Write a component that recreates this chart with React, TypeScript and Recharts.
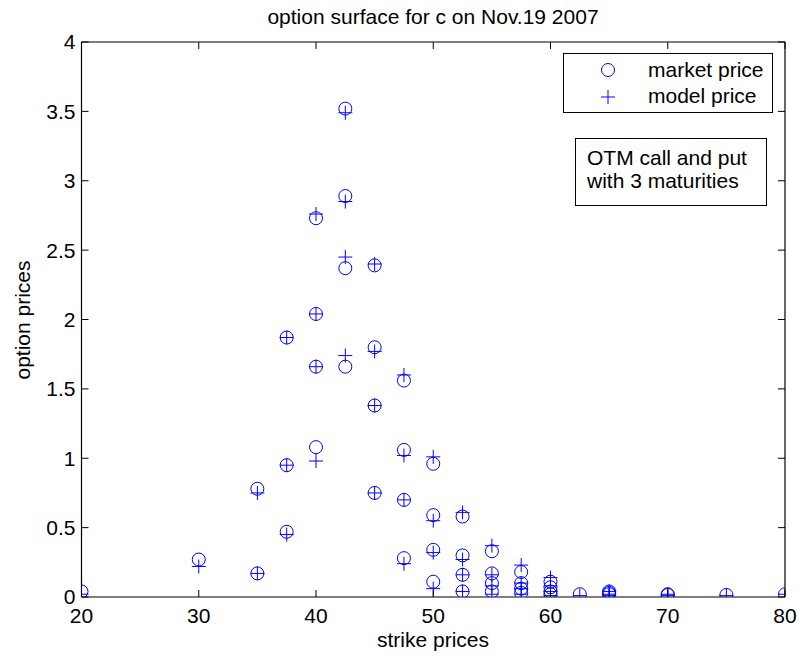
import React from 'react';
import { ScatterChart, Scatter, XAxis, YAxis, ReferenceLine, Legend } from 'recharts';

const strikes = [
  20, 30, 35, 35, 37.5, 37.5, 37.5, 40, 40, 40, 40,
  42.5, 42.5, 42.5, 42.5, 45, 45, 45, 45, 47.5, 47.5, 47.5, 47.5,
  50, 50, 50, 50, 52.5, 52.5, 52.5, 52.5, 55, 55, 55, 55,
  57.5, 57.5, 57.5, 57.5, 60, 60, 60, 60, 62.5, 65, 65, 65, 70, 70, 75, 80,
];
const marketPrices = [
  0.04, 0.27, 0.78, 0.17, 1.87, 0.95, 0.47, 2.73, 2.04, 1.66, 1.08,
  3.52, 2.89, 2.37, 1.66, 2.39, 1.80, 1.38, 0.75, 1.56, 1.06, 0.70, 0.28,
  0.96, 0.59, 0.34, 0.11, 0.58, 0.30, 0.16, 0.04, 0.33, 0.17, 0.10, 0.04,
  0.18, 0.10, 0.06, 0.03, 0.11, 0.07, 0.04, 0.02, 0.02, 0.04, 0.03, 0.02, 0.02, 0.015, 0.015, 0.02,
];
const modelPrices = [
  0.02, 0.22, 0.75, 0.17, 1.87, 0.95, 0.45, 2.76, 2.04, 1.66, 0.98,
  3.49, 2.85, 2.45, 1.74, 2.40, 1.77, 1.38, 0.75, 1.60, 1.02, 0.70, 0.24,
  1.01, 0.55, 0.32, 0.06, 0.61, 0.27, 0.16, 0.04, 0.37, 0.16, 0.08, 0.02,
  0.23, 0.10, 0.06, 0.02, 0.14, 0.08, 0.04, 0.01, 0.01, 0.04, 0.02, 0.01, 0.02, 0.01, 0.01, 0.02,
];
const xTicks = [20, 30, 40, 50, 60, 70, 80];
const yTicks = [0, 0.5, 1, 1.5, 2, 2.5, 3, 3.5, 4];

const marketData = strikes.map((s, i) => ({ strike: s, price: marketPrices[i] }));
const modelData = strikes.map((s, i) => ({ strike: s, price: modelPrices[i] }));

const FONT = '"Liberation Sans", Arial, Helvetica, sans-serif';
const BLUE = '#0000ff';
const PLOT_TOP = 42;
const PLOT_RIGHT = 785;
const TICK_LEN = 7;

const CircleShape = (props: any) => {
  const { cx, cy } = props;
  if (cx == null || cy == null) return null;
  return <circle cx={cx} cy={cy} r={6.5} fill="none" stroke={BLUE} strokeWidth={1} />;
};
const PlusShape = (props: any) => {
  const { cx, cy } = props;
  if (cx == null || cy == null) return null;
  const h = 7;
  return (
    <g stroke={BLUE} strokeWidth={1}>
      <line x1={cx - h} y1={cy} x2={cx + h} y2={cy} />
      <line x1={cx} y1={cy - h} x2={cx} y2={cy + h} />
    </g>
  );
};

const XTick = (props: any) => {
  const { x, y, payload } = props;
  const axisY = y - 11;
  return (
    <g>
      <line x1={x} y1={axisY} x2={x} y2={axisY - TICK_LEN} stroke="#000" />
      <line x1={x} y1={PLOT_TOP} x2={x} y2={PLOT_TOP + TICK_LEN} stroke="#000" />
      <text x={x} y={y} dy="0.71em" textAnchor="middle" fontSize={21} fontFamily={FONT} fill="#000">
        {payload.value}
      </text>
    </g>
  );
};

const YTick = (props: any) => {
  const { x, y, payload } = props;
  const axisX = x + 6;
  return (
    <g>
      <line x1={axisX} y1={y} x2={axisX + TICK_LEN} y2={y} stroke="#000" />
      <line x1={PLOT_RIGHT - TICK_LEN} y1={y} x2={PLOT_RIGHT} y2={y} stroke="#000" />
      <text x={x} y={y} dy="0.355em" textAnchor="end" fontSize={21} fontFamily={FONT} fill="#000">
        {payload.value}
      </text>
    </g>
  );
};

const LegendContent = () => (
  <svg width={210} height={60} style={{ display: 'block' }}>
    <rect x={0.5} y={0.5} width={209} height={59} fill="#fff" stroke="#000" strokeWidth={1} />
    <circle cx={45} cy={17} r={6.5} fill="none" stroke={BLUE} />
    <line x1={38} y1={44} x2={52} y2={44} stroke={BLUE} />
    <line x1={45} y1={37} x2={45} y2={51} stroke={BLUE} />
    <text x={85} y={24} fontSize={21} fontFamily={FONT} fill="#000">market price</text>
    <text x={85} y={50} fontSize={21} fontFamily={FONT} fill="#000">model price</text>
  </svg>
);

export default function App() {
  return (
    <div style={{ position: 'absolute', left: 0, top: 0, width: 799, height: 656, background: '#fff' }}>
      <ScatterChart
        width={799}
        height={656}
        margin={{ top: PLOT_TOP, right: 799 - PLOT_RIGHT, bottom: 29, left: 21.5 }}
      >
        <XAxis
          type="number"
          dataKey="strike"
          domain={[20, 80]}
          ticks={xTicks}
          allowDataOverflow
          tickLine={false}
          tickSize={0}
          tickMargin={11}
          tick={<XTick />}
          axisLine={{ stroke: '#000', strokeWidth: 1.2 }}
          height={30}
        />
        <YAxis
          type="number"
          dataKey="price"
          domain={[0, 4]}
          ticks={yTicks}
          allowDataOverflow
          tickLine={false}
          tickSize={0}
          tickMargin={6}
          tick={<YTick />}
          axisLine={{ stroke: '#000', strokeWidth: 1.2 }}
          width={60}
        />
        <ReferenceLine y={4} stroke="#000" strokeWidth={1.2} />
        <ReferenceLine x={80} stroke="#000" strokeWidth={1.2} />
        <Legend
          layout="vertical"
          align="center"
          verticalAlign="middle"
          content={<LegendContent />}
          wrapperStyle={{ position: 'absolute', left: 563, top: 53, width: 210, height: 60 }}
        />
        <Scatter name="market price" data={marketData} shape={<CircleShape />} isAnimationActive={false} />
        <Scatter name="model price" data={modelData} shape={<PlusShape />} isAnimationActive={false} />
      </ScatterChart>
      <svg
        width={799}
        height={656}
        style={{ position: 'absolute', left: 0, top: 0, pointerEvents: 'none' }}
      >
        <text x={433} y={24} textAnchor="middle" fontSize={21} fontFamily={FONT} fill="#000">
          option surface for c on Nov.19 2007
        </text>
        <text x={433} y={647} textAnchor="middle" fontSize={21} fontFamily={FONT} fill="#000">
          strike prices
        </text>
        <text
          transform="translate(30, 320) rotate(-90)"
          textAnchor="middle"
          fontSize={21}
          fontFamily={FONT}
          fill="#000"
        >
          option prices
        </text>
        <rect x={575.5} y={138.5} width={191} height={67} fill="#fff" stroke="#000" strokeWidth={1} />
        <text x={587} y={165} fontSize={21} fontFamily={FONT} fill="#000">OTM call and put</text>
        <text x={587} y={188} fontSize={21} fontFamily={FONT} fill="#000">with 3 maturities</text>
      </svg>
    </div>
  );
}
